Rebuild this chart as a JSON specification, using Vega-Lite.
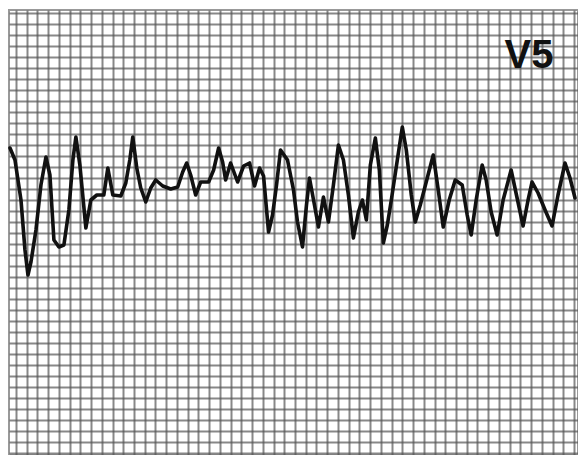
{
  "$schema": "https://vega.github.io/schema/vega-lite/v6.json",
  "width": 578,
  "height": 455,
  "autosize": {"type": "fit", "contains": "padding"},
  "padding": {"left": 8, "top": 10, "right": 0, "bottom": 0},
  "background": "white",
  "config": {"view": {"stroke": "#999", "strokeWidth": 2}},
  "datasets": {
    "ecg": [
      {"t": 9, "v": 307}, {"t": 14, "v": 295}, {"t": 20, "v": 255}, {"t": 24, "v": 205}, {"t": 27, "v": 180},
      {"t": 30, "v": 193}, {"t": 35, "v": 225}, {"t": 40, "v": 270}, {"t": 45, "v": 298}, {"t": 49, "v": 280},
      {"t": 53, "v": 215}, {"t": 58, "v": 208}, {"t": 63, "v": 210}, {"t": 68, "v": 245}, {"t": 72, "v": 295},
      {"t": 75, "v": 318}, {"t": 79, "v": 290}, {"t": 85, "v": 227}, {"t": 90, "v": 255}, {"t": 96, "v": 260},
      {"t": 103, "v": 260}, {"t": 107, "v": 287}, {"t": 112, "v": 260}, {"t": 120, "v": 259}, {"t": 125, "v": 272},
      {"t": 129, "v": 295}, {"t": 132, "v": 318}, {"t": 136, "v": 287}, {"t": 140, "v": 267}, {"t": 145, "v": 253},
      {"t": 150, "v": 267}, {"t": 155, "v": 275}, {"t": 162, "v": 269}, {"t": 170, "v": 266}, {"t": 177, "v": 268},
      {"t": 182, "v": 283}, {"t": 186, "v": 292}, {"t": 190, "v": 280}, {"t": 195, "v": 260}, {"t": 200, "v": 273},
      {"t": 208, "v": 273}, {"t": 213, "v": 285}, {"t": 218, "v": 307}, {"t": 222, "v": 293}, {"t": 225, "v": 275},
      {"t": 230, "v": 292}, {"t": 237, "v": 273}, {"t": 243, "v": 289}, {"t": 249, "v": 292}, {"t": 254, "v": 269},
      {"t": 259, "v": 287}, {"t": 263, "v": 279}, {"t": 268, "v": 223}, {"t": 272, "v": 240}, {"t": 276, "v": 270},
      {"t": 280, "v": 305}, {"t": 287, "v": 295}, {"t": 293, "v": 265}, {"t": 297, "v": 233}, {"t": 302, "v": 208},
      {"t": 306, "v": 250}, {"t": 309, "v": 277}, {"t": 314, "v": 250}, {"t": 318, "v": 228}, {"t": 323, "v": 258},
      {"t": 328, "v": 233}, {"t": 333, "v": 270}, {"t": 338, "v": 310}, {"t": 343, "v": 295}, {"t": 348, "v": 260},
      {"t": 353, "v": 217}, {"t": 358, "v": 243}, {"t": 362, "v": 255}, {"t": 366, "v": 235}, {"t": 370, "v": 290},
      {"t": 375, "v": 317}, {"t": 379, "v": 285}, {"t": 383, "v": 212}, {"t": 387, "v": 230}, {"t": 391, "v": 255},
      {"t": 397, "v": 295}, {"t": 402, "v": 328}, {"t": 406, "v": 305}, {"t": 411, "v": 260}, {"t": 415, "v": 233},
      {"t": 420, "v": 250}, {"t": 427, "v": 277}, {"t": 433, "v": 300}, {"t": 438, "v": 265}, {"t": 443, "v": 228},
      {"t": 449, "v": 255}, {"t": 455, "v": 275}, {"t": 462, "v": 270}, {"t": 467, "v": 240}, {"t": 471, "v": 220},
      {"t": 476, "v": 255}, {"t": 482, "v": 290}, {"t": 486, "v": 275}, {"t": 491, "v": 243}, {"t": 497, "v": 220},
      {"t": 503, "v": 255}, {"t": 511, "v": 285}, {"t": 517, "v": 257}, {"t": 523, "v": 229}, {"t": 528, "v": 255},
      {"t": 532, "v": 273}, {"t": 538, "v": 262}, {"t": 545, "v": 245}, {"t": 552, "v": 229}, {"t": 558, "v": 260},
      {"t": 565, "v": 292}, {"t": 570, "v": 277}, {"t": 575, "v": 257}
    ],
    "lead": [{"t": 529, "v": 399, "label": "V5"}]
  },
  "encoding": {
    "x": {
      "field": "t", "type": "quantitative",
      "scale": {"domain": [8, 578], "nice": false, "zero": false},
      "axis": {
        "title": null, "labels": false, "ticks": false, "domain": false,
        "grid": true, "gridColor": "#555", "gridWidth": 2, "gridOpacity": 0.7,
        "values": [15, 25.75, 36.5, 47.25, 58, 68.75, 79.5, 90.25, 101, 111.75, 122.5, 133.25, 144, 154.75, 165.5, 176.25, 187, 197.75, 208.5, 219.25, 230, 240.75, 251.5, 262.25, 273, 283.75, 294.5, 305.25, 316, 326.75, 337.5, 348.25, 359, 369.75, 380.5, 391.25, 402, 412.75, 423.5, 434.25, 445, 455.75, 466.5, 477.25, 488, 498.75, 509.5, 520.25, 531, 541.75, 552.5, 563.25, 574]
      }
    },
    "y": {
      "field": "v", "type": "quantitative",
      "scale": {"domain": [0, 445], "nice": false, "zero": false},
      "axis": {
        "title": null, "labels": false, "ticks": false, "domain": false,
        "grid": true, "gridColor": "#555", "gridWidth": 2, "gridOpacity": 0.7,
        "values": [442, 431, 420, 409, 398, 387, 376, 365, 354, 343, 332, 321, 310, 299, 288, 277, 266, 255, 244, 233, 222, 211, 200, 189, 178, 167, 156, 145, 134, 123, 112, 101, 90, 79, 68, 57, 46, 35, 24, 13, 2]
      }
    }
  },
  "layer": [
    {
      "data": {"name": "ecg"},
      "mark": {"type": "line", "color": "#111", "strokeWidth": 3.6, "strokeJoin": "round", "strokeCap": "round"}
    },
    {
      "data": {"name": "lead"},
      "mark": {"type": "text", "font": "Liberation Sans", "fontWeight": "bold", "fontSize": 40, "color": "#111", "align": "center", "baseline": "middle"},
      "encoding": {"text": {"field": "label"}}
    }
  ]
}
